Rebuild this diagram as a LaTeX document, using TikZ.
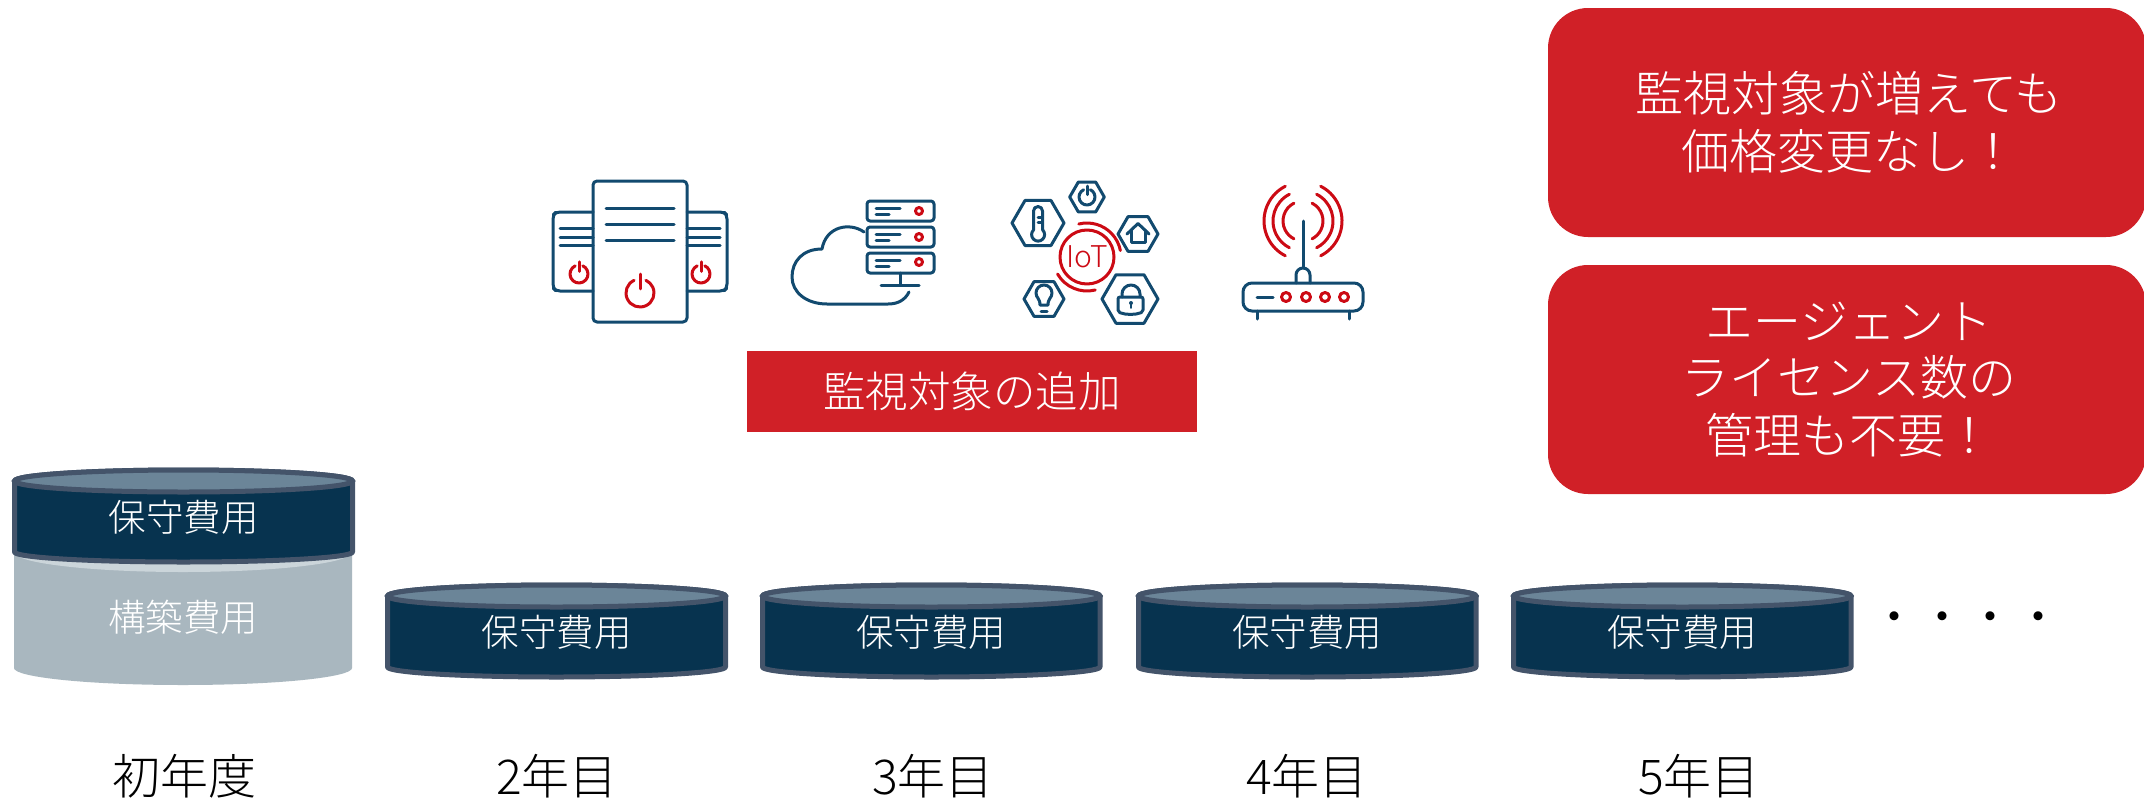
\documentclass[tikz,border=0pt]{standalone}
\usepackage{fontspec}
\setmainfont{Noto Sans CJK JP Light}
\usetikzlibrary{calc}
\definecolor{rd}{HTML}{D02027}
\definecolor{icr}{HTML}{CC0A14}
\definecolor{icb}{HTML}{124A6F}
\definecolor{dk}{HTML}{07334F}
\definecolor{edge}{HTML}{44546A}
\definecolor{lid}{HTML}{6B8598}
\definecolor{gy}{HTML}{A9B7BF}
\definecolor{gl}{HTML}{CBD5DA}
\tikzset{
  redbox/.style={fill=rd,text=white,rounded corners=40pt,inner sep=0pt,align=center,font=\fontsize{48}{58}\selectfont},
  flagbox/.style={fill=rd,text=white,inner sep=0pt,align=center,font=\fontsize{42.5}{50}\selectfont},
  cyltext/.style={text=white,inner sep=0pt,font=\fontsize{37.5}{44}\selectfont},
  yeartext/.style={text=black,inner sep=0pt,font=\fontsize{48}{58}\selectfont},
  ic/.style={draw=icb,line width=3pt,line cap=round,line join=round},
  icred/.style={draw=icr,line width=3pt,line cap=round,line join=round},
}
\newcommand{\cyl}[6]{% name x1 x2 ytop ybot label
  \path[fill=dk,draw=edge,line width=5pt,line join=round]
    (#2,#4) -- (#2,#5) arc[start angle=180,end angle=360,x radius={(#3-#2)/2*1pt},y radius=10pt]
    -- (#3,#4) arc[start angle=0,end angle=180,x radius={(#3-#2)/2*1pt},y radius=11pt] -- cycle;
  \path[fill=lid,draw=edge,line width=5pt] ({(#2+#3)/2},#4) ellipse[x radius={(#3-#2)/2*1pt},y radius=11pt];
  \node[cyltext] (#1) at ({(#2+#3)/2},{#4+36}) {#6};
}
\newcommand{\hexa}[3]{\draw[ic] (#1,#2) ++(0:#3pt) -- ++(120:#3pt) -- ++(180:#3pt) -- ++(240:#3pt) -- ++(300:#3pt) -- ++(0:#3pt) -- cycle;}
\newcommand{\pwr}[4]{% x y r color
  \draw[#4] ($(#1,#2)+(115:#3pt)$) arc[start angle=115,end angle=425,radius=#3pt];
  \draw[#4] (#1,{#2-1.35*#3}) -- (#1,{#2-0.3*#3});
}
\begin{document}
\begin{tikzpicture}[x=1pt,y=-1pt]
\useasboundingbox (0,0) rectangle (2144,798);
\fill[white] (0,0) rectangle (2144,798);

% message boxes
\node[redbox,minimum width=598pt,minimum height=229pt] (msgA) at (1847,122.5) {\hspace{4pt}監視対象が増えても\\\hspace{4pt}価格変更なし！};
\node[redbox,minimum width=598pt,minimum height=229pt] (msgB) at (1847,379.5) {\hspace{4pt}\raisebox{-2pt}{エージェント}\\\hspace{4pt}ライセンス数の\\\hspace{4pt}管理も不要！};
\node[flagbox,minimum width=450pt,minimum height=81pt] (flag) at (972,391.5) {監視対象の追加};

% first-year grey cylinder
\path[fill=gy] (14,552) -- (14,668) arc[start angle=180,end angle=360,x radius=169pt,y radius=17pt] -- (352,552) -- cycle;
\path[fill=gl] (14,552) arc[start angle=180,end angle=360,x radius=169pt,y radius=20pt] -- cycle;
\node[text=white,inner sep=0pt,font=\fontsize{37.5}{44}\selectfont] (build) at (183,617) {構築費用};
\cyl{maintA}{14.5}{352.5}{481}{552}{保守費用}
\cyl{maintB}{387.5}{725.5}{596}{667}{保守費用}
\cyl{maintC}{762.5}{1100}{596}{667}{保守費用}
\cyl{maintD}{1138.5}{1476}{596}{667}{保守費用}
\cyl{maintE}{1513.5}{1851}{596}{667}{保守費用}
\node[yeartext] (dots) at (1966,623) {・・・・};

\node[yeartext] (y1) at (184,776) {初年度};
\node[yeartext] (y2) at (557,776) {2年目};
\node[yeartext] (y3) at (933,776) {3年目};
\node[yeartext] (y4) at (1307,776) {4年目};
\node[yeartext] (y5) at (1699,776) {5年目};

% server icon
\draw[ic,rounded corners=4pt] (593,291) -- (556,291) -- (553,288) -- (553,215) -- (556,212) -- (593,212);
\draw[ic,rounded corners=4pt] (687,291) -- (724,291) -- (727,288) -- (727,215) -- (724,212) -- (687,212);
\draw[ic,rounded corners=4pt] (593,181) rectangle (687,322);
\foreach \yy in {208,224,240} \draw[ic] (606,\yy) -- (674,\yy);
\foreach \yy in {228,237,245} {\draw[ic] (560,\yy) -- (593,\yy); \draw[ic] (687,\yy) -- (720,\yy);}
\pwr{640}{293}{14}{icred}
\pwr{579}{274}{9}{icred}
\pwr{701}{274}{9}{icred}

% cloud icon
\draw[ic] (864,232) .. controls (850,222) and (826,226) .. (822,249)
  .. controls (802,249) and (792,262) .. (792,277)
  .. controls (792,292) and (806,304) .. (827,304) -- (888,304)
  .. controls (898,304) and (905,300) .. (909,292);
\foreach \yy/\cy in {201/211,227/237,253/262} {
  \draw[ic,rounded corners=3pt] (867,\yy) rectangle (934,\yy+20);
  \draw[ic] (876,\yy+7) -- (900,\yy+7);
  \draw[ic] (876,\yy+13) -- (889,\yy+13);
  \draw[icred] (919,\cy) circle[radius=3.5pt];
}
\draw[ic] (900,273) -- (900,285);
\draw[ic] (881,285) -- (919,285);

% IoT icon
\hexa{1038}{223}{26}
\draw[ic] (1033.5,230) -- (1033.5,211) arc[start angle=180,end angle=0,radius=4.5pt] -- (1042.5,230);
\draw[ic] (1033.5,230) arc[start angle=135,end angle=405,radius=6.5pt];
\draw[ic] (1038,222) -- (1042,222); \draw[ic] (1038,217) -- (1042,217);
\hexa{1087}{197}{17.3}
\pwr{1087}{197}{8}{ic}
\hexa{1138}{234}{20}
\draw[ic] (1127,234) -- (1138,223.5) -- (1149,234);
\draw[ic] (1131,230) -- (1131,242) -- (1145,242) -- (1145,230);
\hexa{1044}{299}{20}
\draw[ic] (1040,305) .. controls (1040,298) and (1036,298) .. (1036,293)
  arc[start angle=180,end angle=0,radius=8pt]
  .. controls (1052,298) and (1048,298) .. (1048,305) -- cycle;
\draw[ic] (1041,311) -- (1047,311);
\hexa{1130}{299}{28}
\draw[ic] (1122,297) -- (1122,294) arc[start angle=180,end angle=0,radius=9pt] -- (1140,297);
\draw[ic,rounded corners=2pt] (1118,297) -- (1143,297) -- (1143,312) .. controls (1135,315) and (1126,315) .. (1118,312) -- cycle;
\fill[icb] (1131,303) circle[radius=2pt];
\draw[ic,line width=1.6pt] (1131,303) -- (1131,308);
\draw[icred] (1087,257) circle[radius=27pt];
\draw[icred] ($(1087,257)+(104:34pt)$) arc[start angle=104,end angle=11,radius=34pt];
\draw[icred] ($(1087,257)+(210:34pt)$) arc[start angle=210,end angle=284,radius=34pt];
\node[text=icr,inner sep=0pt,font=\fontsize{30}{30}\selectfont] (iot) at (1087,257) {IoT};

% router icon
\draw[ic,rounded corners=9pt] (1243,283) rectangle (1363,311);
\draw[ic] (1257,311) -- (1257,319);
\draw[ic] (1349,311) -- (1349,319);
\draw[ic] (1257,297) -- (1273,297);
\foreach \xx in {1286,1306,1325,1344} \draw[icred] (\xx,297) circle[radius=4.5pt];
\draw[ic] (1303,221) -- (1303,268);
\draw[ic] (1296,283) -- (1296,275) arc[start angle=180,end angle=0,radius=7pt] -- (1310,283);
\foreach \rr in {20,30,39} {
  \draw[icred] ($(1303,221)+(117:\rr pt)$) arc[start angle=117,end angle=243,radius=\rr pt];
  \draw[icred] ($(1303,221)+(63:\rr pt)$) arc[start angle=63,end angle=-63,radius=\rr pt];
}
\end{tikzpicture}
\end{document}
